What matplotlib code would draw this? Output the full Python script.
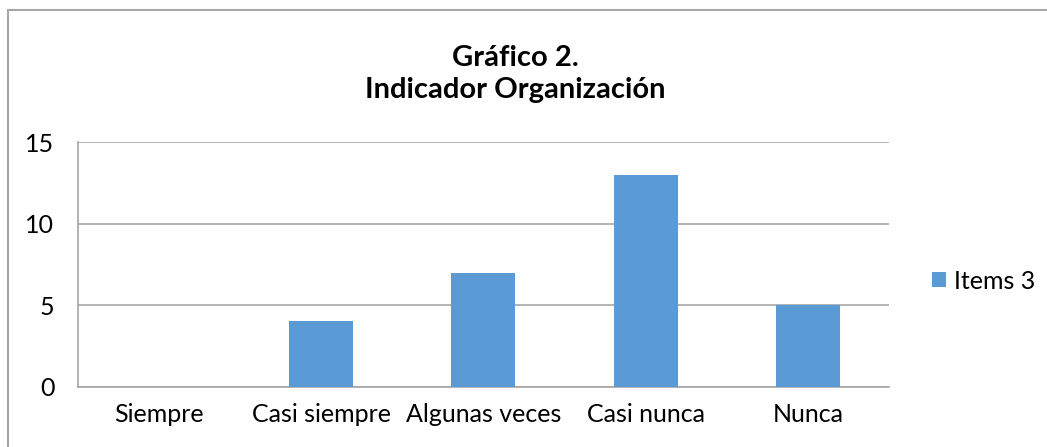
import matplotlib.pyplot as plt
from matplotlib.lines import Line2D

categorias = ['Siempre', 'Casi siempre', 'Algunas veces', 'Casi nunca', 'Nunca']
valores = [0, 4, 7, 13, 5]
serie = 'Items 3'
titulo = 'Gráfico 2.\nIndicador Organización'

plt.rcParams['font.family'] = ['Lato', 'DejaVu Sans']

fig = plt.figure(figsize=(10.47, 4.47), dpi=100)
ax = fig.add_axes([0.0745, 0.135, 0.7745, 0.547])

x = range(len(categorias))
ax.bar(x, valores, width=0.395, color='#5B9BD5', label=serie, zorder=3)

ax.set_xlim(-0.5, len(categorias) - 0.5)
ax.set_ylim(0, 15)
ax.set_yticks([0, 5, 10, 15])
ax.set_xticks(list(x))
ax.set_xticklabels(categorias)
ax.tick_params(axis='both', length=0, labelsize=18, colors='black')
ax.tick_params(axis='y', pad=17)
ax.tick_params(axis='x', pad=12)

ax.grid(axis='y', color='#A6A6A6', linewidth=1.2, zorder=0)
for s in ['top', 'right']:
    ax.spines[s].set_visible(False)
for s in ['left', 'bottom']:
    ax.spines[s].set_color('#A6A6A6')
    ax.spines[s].set_linewidth(1.2)

fig.text(0.492, 0.834, titulo, ha='center', va='center', fontsize=21,
         fontweight='bold', linespacing=1.3)

ax.legend(loc='center left', bbox_to_anchor=(1.026, 0.432), frameon=False,
          fontsize=18, handlelength=0.56, handleheight=0.56, handletextpad=0.3)

# borde del gráfico
fig.add_artist(Line2D([8 / 1047, 8 / 1047], [0, 1 - 10 / 447], color='#A6A6A6', linewidth=1.5))
fig.add_artist(Line2D([8 / 1047, 1], [1 - 10 / 447, 1 - 10 / 447], color='#A6A6A6', linewidth=1.5))

fig.savefig('out.png', dpi=100)
